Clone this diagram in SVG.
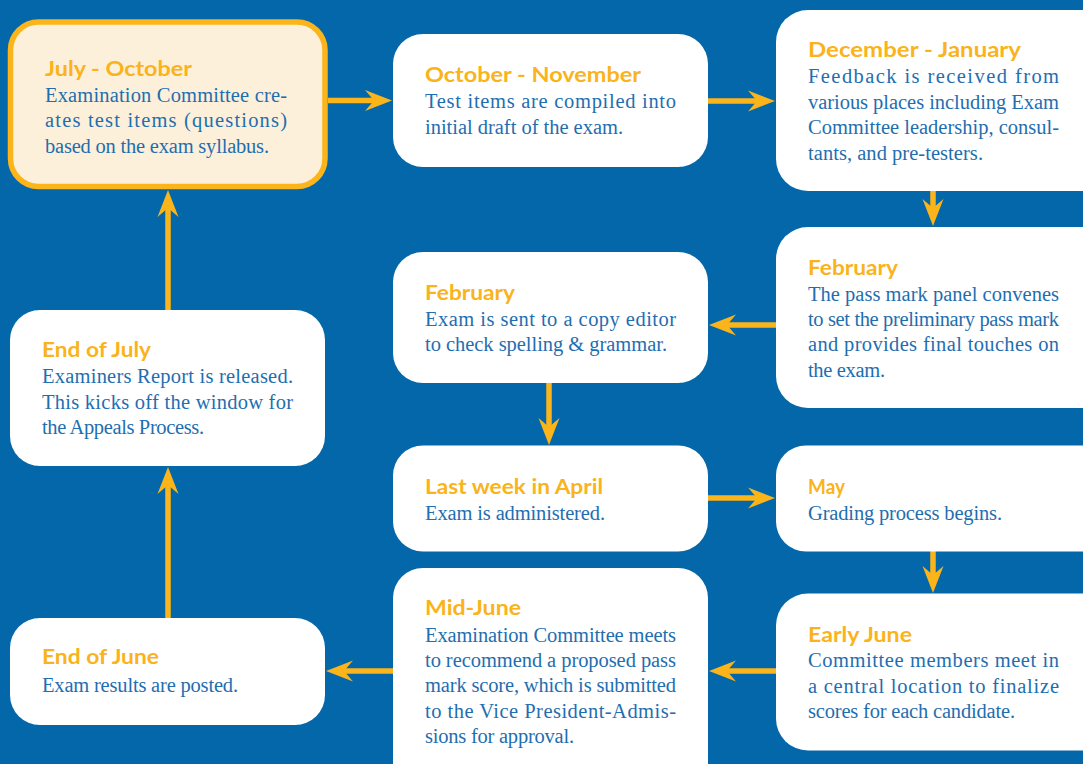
<svg xmlns="http://www.w3.org/2000/svg" width="1083" height="764" viewBox="0 0 1083 764">
<defs>
<style>
.bg{fill:#0467AA}
.box{fill:#FFFFFF}
.start{fill:#FDF0DA;stroke:#FBB41A;stroke-width:5.5}
.t{font-family:"Lato","Liberation Sans",sans-serif;font-weight:700;font-size:20.5px;fill:#FAB31B}
.b{font-family:"Liberation Serif",serif;font-size:20.5px;fill:#1F6EB0}
.c{fill:none;stroke:#FBB41A;stroke-width:5.5}
</style>
<marker id="ah" markerUnits="userSpaceOnUse" viewBox="0 -11 27 22" refX="12" refY="0" markerWidth="27" markerHeight="22" orient="auto">
<path d="M0,-10.5 L27,0 L0,10.5 L9,0 Z" fill="#FBB41A"/>
</marker>
</defs>
<rect class="bg" x="0" y="0" width="1083" height="764"/>

<g id="connectors">
<path class="c" d="M328,100.5 L377,100.5" marker-end="url(#ah)"/>
<path class="c" d="M708,101 L760,101" marker-end="url(#ah)"/>
<path class="c" d="M933,191 L933,211" marker-end="url(#ah)"/>
<path class="c" d="M776,325 L724,325" marker-end="url(#ah)"/>
<path class="c" d="M549,383 L549,430" marker-end="url(#ah)"/>
<path class="c" d="M708,498 L760,498" marker-end="url(#ah)"/>
<path class="c" d="M933,551 L933,578" marker-end="url(#ah)"/>
<path class="c" d="M776,671 L724,671" marker-end="url(#ah)"/>
<path class="c" d="M393,671 L341,671" marker-end="url(#ah)"/>
<path class="c" d="M168,618 L168,482" marker-end="url(#ah)"/>
<path class="c" d="M168,310 L168,205" marker-end="url(#ah)"/>
</g>

<g id="n1">
<rect class="start" x="10.5" y="22" width="314.5" height="164.5" rx="28"/>
<text class="t" x="45" y="76" textLength="147" lengthAdjust="spacingAndGlyphs">July - October</text>
<text class="b" x="45" y="101.5" textLength="242" lengthAdjust="spacing">Examination Committee cre-</text>
<text class="b" x="45" y="127" textLength="242" lengthAdjust="spacing">ates test items (questions)</text>
<text class="b" x="45" y="152.5" textLength="224" lengthAdjust="spacing">based on the exam syllabus.</text>
</g>

<g id="n2">
<rect class="box" x="393" y="34" width="315" height="133" rx="30"/>
<text class="t" x="425" y="82" textLength="216" lengthAdjust="spacingAndGlyphs">October - November</text>
<text class="b" x="425" y="108" textLength="251" lengthAdjust="spacing">Test items are compiled into</text>
<text class="b" x="425" y="133.5" textLength="198" lengthAdjust="spacing">initial draft of the exam.</text>
</g>

<g id="n3">
<rect class="box" x="776" y="10" width="340" height="181" rx="32"/>
<text class="t" x="808" y="57" textLength="213" lengthAdjust="spacingAndGlyphs">December - January</text>
<text class="b" x="808" y="83" textLength="251" lengthAdjust="spacing">Feedback is received from</text>
<text class="b" x="808" y="108.5" textLength="251" lengthAdjust="spacing">various places including Exam</text>
<text class="b" x="808" y="134" textLength="251" lengthAdjust="spacing">Committee leadership, consul-</text>
<text class="b" x="808" y="159.5" textLength="175" lengthAdjust="spacing">tants, and pre-testers.</text>
</g>

<g id="n4">
<rect class="box" x="776" y="227" width="340" height="181" rx="32"/>
<text class="t" x="808" y="275" textLength="90" lengthAdjust="spacingAndGlyphs">February</text>
<text class="b" x="808" y="300.5" textLength="251" lengthAdjust="spacing">The pass mark panel convenes</text>
<text class="b" x="808" y="326" textLength="251" lengthAdjust="spacing">to set the preliminary pass mark</text>
<text class="b" x="808" y="351" textLength="251" lengthAdjust="spacing">and provides final touches on</text>
<text class="b" x="808" y="376.5" textLength="77" lengthAdjust="spacing">the exam.</text>
</g>

<g id="n5">
<rect class="box" x="393" y="252" width="315" height="131" rx="30"/>
<text class="t" x="425" y="300" textLength="90" lengthAdjust="spacingAndGlyphs">February</text>
<text class="b" x="425" y="325.5" textLength="251" lengthAdjust="spacing">Exam is sent to a copy editor</text>
<text class="b" x="425" y="351" textLength="242" lengthAdjust="spacing">to check spelling &amp; grammar.</text>
</g>

<g id="n6">
<rect class="box" x="10" y="310" width="315" height="156" rx="30"/>
<text class="t" x="42" y="357" textLength="109" lengthAdjust="spacingAndGlyphs">End of July</text>
<text class="b" x="42" y="383" textLength="251" lengthAdjust="spacing">Examiners Report is released.</text>
<text class="b" x="42" y="408.5" textLength="251" lengthAdjust="spacing">This kicks off the window for</text>
<text class="b" x="42" y="434" textLength="162" lengthAdjust="spacing">the Appeals Process.</text>
</g>

<g id="n7">
<rect class="box" x="393" y="445.5" width="315" height="106" rx="30"/>
<text class="t" x="425" y="493.5" textLength="178" lengthAdjust="spacingAndGlyphs">Last week in April</text>
<text class="b" x="425" y="519.5" textLength="180" lengthAdjust="spacing">Exam is administered.</text>
</g>

<g id="n8">
<rect class="box" x="776" y="445.5" width="340" height="106" rx="30"/>
<text class="t" x="808" y="493.5" textLength="37" lengthAdjust="spacingAndGlyphs">May</text>
<text class="b" x="808" y="519.5" textLength="194" lengthAdjust="spacing">Grading process begins.</text>
</g>

<g id="n9">
<rect class="box" x="776" y="593.5" width="340" height="157" rx="32"/>
<text class="t" x="808" y="642" textLength="104" lengthAdjust="spacingAndGlyphs">Early June</text>
<text class="b" x="808" y="667" textLength="251" lengthAdjust="spacing">Committee members meet in</text>
<text class="b" x="808" y="692.5" textLength="251" lengthAdjust="spacing">a central location to finalize</text>
<text class="b" x="808" y="718" textLength="207" lengthAdjust="spacing">scores for each candidate.</text>
</g>

<g id="n10">
<rect class="box" x="393" y="568" width="315" height="230" rx="30"/>
<text class="t" x="425" y="615" textLength="96" lengthAdjust="spacingAndGlyphs">Mid-June</text>
<text class="b" x="425" y="641.5" textLength="251" lengthAdjust="spacing">Examination Committee meets</text>
<text class="b" x="425" y="667" textLength="251" lengthAdjust="spacing">to recommend a proposed pass</text>
<text class="b" x="425" y="692" textLength="251" lengthAdjust="spacing">mark score, which is submitted</text>
<text class="b" x="425" y="717.5" textLength="251" lengthAdjust="spacing">to the Vice President-Admis-</text>
<text class="b" x="425" y="743" textLength="149" lengthAdjust="spacing">sions for approval.</text>
</g>

<g id="n11">
<rect class="box" x="10" y="618" width="315" height="107" rx="30"/>
<text class="t" x="42" y="664" textLength="117" lengthAdjust="spacingAndGlyphs">End of June</text>
<text class="b" x="42" y="691.5" textLength="196" lengthAdjust="spacing">Exam results are posted.</text>
</g>
</svg>
